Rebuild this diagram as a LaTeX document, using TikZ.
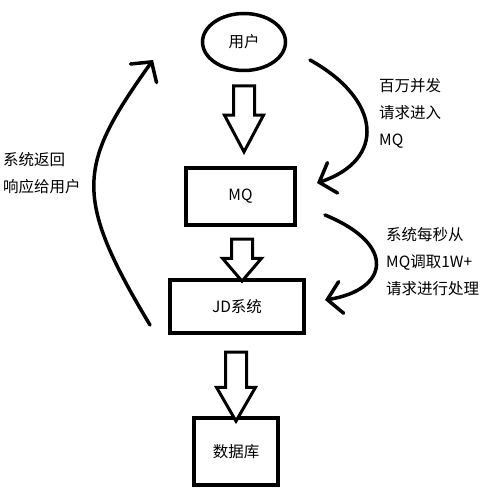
\documentclass[tikz,border=0pt]{standalone}
\usepackage{fontspec}
\setmainfont{Noto Sans CJK SC}
\usetikzlibrary{shapes.geometric, shapes.arrows, arrows.meta}

\begin{document}
\begin{tikzpicture}[x=1pt, y=-1pt,
	every node/.style={font=\fontsize{15.5}{27}\selectfont},
	box/.style={draw, line width=3.5pt, inner sep=0pt},
	blockarrow/.style={single arrow, draw, fill=white, line width=3pt, rotate=-90, inner sep=9pt, single arrow head extend=9pt},
	curvearrow/.style={line width=3.5pt, line cap=round, -{Straight Barb[length=14pt, width=32pt, line cap=round]}},
	note/.style={align=left, anchor=west, inner sep=0pt}]
	\useasboundingbox (0,0) rectangle (492,489);
	
	% boxes
	\node[box, ellipse, minimum width=83pt, minimum height=57pt] (user) at (244,42) {用户};
	\node[box, minimum width=109pt, minimum height=57pt] (mq) at (240.5,196.5) {MQ};
	\node[box, minimum width=134pt, minimum height=53pt] (jd) at (237,306.5) {JD系统};
	\node[box, minimum width=84pt, minimum height=67pt] (db) at (236,451.5) {数据库};
	
	% hollow arrows
	\node[blockarrow, minimum height=66pt, single arrow tip angle=56] (a1) at (244,109) {};
	\node[blockarrow, minimum height=42pt, single arrow tip angle=81] (a2) at (242,254) {};
	\node[blockarrow, minimum height=69pt, single arrow tip angle=60] (a3) at (236,377.5) {};
	
	% curved arrows
	\coordinate (in1) at (310,60);
	\coordinate (out1) at (317,183);
	\draw[curvearrow] (in1) .. controls (382,100) and (386,160) .. (out1);
	\node[note] (n1) at (379,113) {百万并发\\请求进入\\MQ};
	
	\coordinate (in2) at (325,215);
	\coordinate (out2) at (325,300);
	\draw[curvearrow] (in2) .. controls (398,245) and (388,290) .. (out2);
	\node[note] (n2) at (386,262) {系统每秒从\\MQ调取1W+\\请求进行处理};
	
	\coordinate (back1) at (150,325);
	\coordinate (back2) at (153,60);
	\draw[curvearrow] (back1) .. controls (72,195) and (78,165) .. (back2);
	\node[note] (n3) at (3,173.5) {系统返回\\响应给用户};
\end{tikzpicture}
\end{document}
